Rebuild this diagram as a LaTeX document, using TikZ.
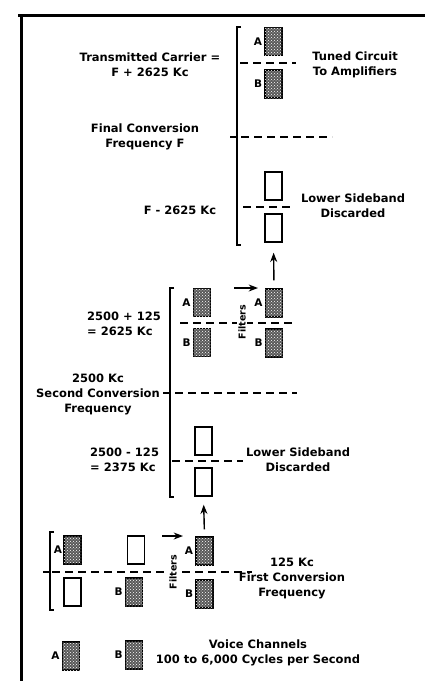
\documentclass[tikz,border=0pt]{standalone}
\usepackage{fontspec}
\setmainfont{DejaVu Sans}
\usetikzlibrary{positioning, arrows.meta, calc, patterns}

\begin{document}
\begin{tikzpicture}[
    x=1pt, y=-1pt, >=Stealth,
    font=\fontsize{11.5}{15}\selectfont\bfseries,
    chan/.style={draw=black, line width=1.4pt, fill=black!65, minimum width=17pt, minimum height=28pt, inner sep=0pt,
        postaction={pattern=crosshatch dots, pattern color=white}},
    blank/.style={draw=black, line width=1.4pt, fill=white, minimum width=17pt, minimum height=28pt, inner sep=0pt},
    tag/.style={inner sep=1pt, font=\fontsize{10.5}{12}\selectfont\bfseries},
    txt/.style={align=center, inner sep=0pt},
    carrier/.style={line width=1.4pt, dash pattern=on 8pt off 5pt},
    bracket/.style={line width=1.4pt},
    arrow/.style={->, line width=1.4pt},
    filt/.style={rotate=90, fill=white, inner sep=1pt, font=\fontsize{9.5}{10}\selectfont\bfseries}
]
\useasboundingbox (0,0) rectangle (425,681);

%% frame
\draw[line width=3pt] (18,15) -- (425,15);
\draw[line width=3pt] (21,15) -- (21,681);

%% ============================================================
%% FINAL CONVERSION
%% ============================================================
\draw[bracket] (241,27) -- (237,27) -- (237,245) -- (241,245);
\draw[bracket] (230,137) -- (237,137);

\node[chan] (tA) at (273.5,41.5) {};
\node[chan] (tB) at (273.5,84) {};
\node[tag, left=1pt of tA] {A};
\node[tag, left=1pt of tB] {B};
\draw[carrier] (240,63) -- (296,63);

\node[txt] (carrier) at (150,65) {Transmitted Carrier =\\F + 2625 Kc};
\node[txt] (tuned) at (355,65) {Tuned Circuit\\To Amplifiers};

\node[txt] (final) at (145,137) {Final Conversion\\Frequency F};
\draw[carrier] (241,137) -- (332,137);

\node[blank] (dT1) at (273.5,186) {};
\node[blank] (dT2) at (273.5,228) {};
\draw[carrier] (243,207) -- (293,207);
\node[txt] (lowF) at (180,210) {F - 2625 Kc};
\node[txt] (discT) at (353,206) {Lower Sideband\\Discarded};

%% ============================================================
%% SECOND CONVERSION
%% ============================================================
\draw[bracket] (174,288) -- (170,288) -- (170,497) -- (174,497);
\draw[bracket] (163,393) -- (170,393);

\node[chan] (sA) at (202,302.5) {};
\node[chan] (sB) at (202,342.5) {};
\node[tag, left=1pt of sA] {A};
\node[tag, left=1pt of sB] {B};
\draw[carrier] (180,323) -- (296,323);

\node[filt] (filt2) at (242,322) {Filters};
\coordinate (f2in) at (234,288);
\draw[arrow] (f2in) -- ++(24,0);

\node[chan] (fA2) at (274,303) {};
\node[chan] (fB2) at (274,343) {};
\node[tag, left=1pt of fA2] {A};
\node[tag, left=1pt of fB2] {B};
\draw[arrow, shorten <=8pt, shorten >=10pt] (fA2.north) -- (dT2.south);

\node[txt, anchor=west, align=left] (upS) at (87,324) {2500 + 125\\= 2625 Kc};
\node[txt] (second) at (98,394) {2500 Kc\\Second Conversion\\Frequency};
\draw[carrier] (175,393) -- (297,393);

\node[blank] (dS1) at (203.5,441) {};
\node[blank] (dS2) at (203.5,482) {};
\draw[carrier] (172,461) -- (243,461);
\node[txt, anchor=west, align=left] (lowS) at (90,460) {2500 - 125\\= 2375 Kc};
\node[txt] (discS) at (298,460) {Lower Sideband\\Discarded};

%% ============================================================
%% FIRST CONVERSION
%% ============================================================
\draw[bracket] (54,532) -- (50,532) -- (50,610) -- (54,610);
\draw[bracket] (43,572) -- (50,572);

\node[chan] (vA) at (72.5,550) {};
\node[blank] (vB) at (72.5,592) {};
\node[tag, left=0pt of vA] {A};
\node[blank] (uA) at (136,550) {};
\node[chan] (uB) at (134,592) {};
\node[tag, left=1pt of uB] {B};
\draw[carrier] (52,572) -- (252,572);

\node[filt] (filt1) at (173,572) {Filters};
\coordinate (f1in) at (162,536);
\draw[arrow] (f1in) -- ++(21,0);

\node[chan] (fA1) at (204.5,551) {};
\node[chan] (fB1) at (204.5,594) {};
\node[tag, left=1pt of fA1] {A};
\node[tag, left=1pt of fB1] {B};
\draw[arrow, shorten <=7pt, shorten >=8pt] (fA1.north) -- (dS2.south);

\node[txt] (first) at (292,578) {125 Kc\\First Conversion\\Frequency};

%% --- Legend ---
\node[chan] (lA) at (71,656) {};
\node[chan] (lB) at (134,655) {};
\node[tag, left=1pt of lA] {A};
\node[tag, left=1pt of lB] {B};
\node[txt] (voice) at (258,653) {Voice Channels\\100 to 6,000 Cycles per Second};

\end{tikzpicture}
\end{document}
